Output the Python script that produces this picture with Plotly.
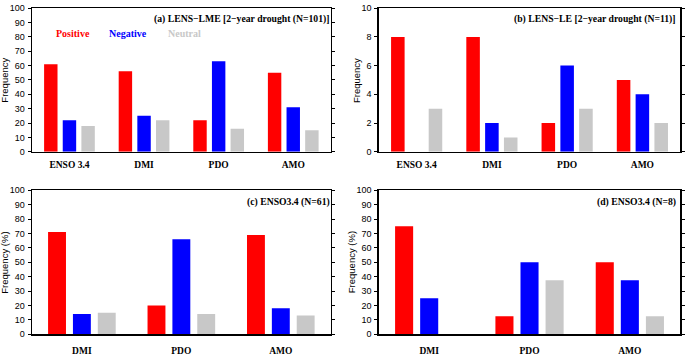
import plotly.graph_objects as go

W, H = 685, 356

# ---- data ----
cats_top = ["ENSO 3.4", "DMI", "PDO", "AMO"]
cats_bot = ["DMI", "PDO", "AMO"]
series_names = ["Positive", "Negative", "Neutral"]

a_pos = [61, 56, 22, 55]
a_neg = [22, 25, 63, 31]
a_neu = [18, 22, 16, 15]

b_pos = [8, 8, 2, 5]
b_neg = [0, 2, 6, 4]
b_neu = [3, 1, 3, 2]

c_pos = [71, 20, 69]
c_neg = [14, 66, 18]
c_neu = [15, 14, 13]

d_pos = [75, 12.5, 50]
d_neg = [25, 50, 37.5]
d_neu = [0, 37.5, 12.5]

colors = ["#FF0000", "#0000FF", "#C8C8C8"]

panels = [
    ("x", "y", cats_top, [a_pos, a_neg, a_neu]),
    ("x2", "y2", cats_top, [b_pos, b_neg, b_neu]),
    ("x3", "y3", cats_bot, [c_pos, c_neg, c_neu]),
    ("x4", "y4", cats_bot, [d_pos, d_neg, d_neu]),
]

fig = go.Figure()
for xa, ya, cats, vals in panels:
    for name, v, col in zip(series_names, vals, colors):
        fig.add_trace(go.Bar(x=cats, y=v, name=name, marker=dict(color=col, line=dict(width=0)),
                             xaxis=xa, yaxis=ya, showlegend=False, hoverinfo="skip"))

def px(x):
    return x / W

def py(y):
    return 1 - y / H

left_dom = [px(32.3), px(332)]
right_dom = [px(380.7), px(683)]
top_dom = [py(152.3), py(3.3)]
bot_dom = [py(341.7), py(192.3)]

serif_b = dict(family="Liberation Serif", size=9.5, color="black", weight="bold")
sans = dict(family="Liberation Sans", size=9, color="black")

def xaxis(dom, anchor, standoff):
    return dict(domain=dom, anchor=anchor, showline=True, linewidth=1.6, linecolor="black",
                mirror=True, ticks="", showgrid=False, tickfont=serif_b, ticklabelstandoff=standoff,
                zeroline=False)

def yaxis(dom, anchor, rng, dt):
    return dict(domain=dom, anchor=anchor, range=rng, dtick=dt, showline=True, linewidth=1.6,
                linecolor="black", mirror="allticks", ticks="outside", ticklen=3, tickwidth=1,
                tickcolor="black", showgrid=False, zeroline=False, tickfont=sans, ticklabelstandoff=1)

fig.update_layout(
    width=W, height=H, margin=dict(l=0, r=0, t=0, b=0),
    paper_bgcolor="white", plot_bgcolor="white",
    barmode="group", bargap=0.25, bargroupgap=0.28,
    xaxis=xaxis(left_dom, "y", 3), yaxis=yaxis(top_dom, "x", [0, 100], 10),
    xaxis2=xaxis(right_dom, "y2", 3), yaxis2=yaxis(top_dom, "x2", [0, 10], 2),
    xaxis3=xaxis(left_dom, "y3", 7), yaxis3=yaxis(bot_dom, "x3", [0, 100], 10),
    xaxis4=xaxis(right_dom, "y4", 7), yaxis4=yaxis(bot_dom, "x4", [0, 100], 10),
)

ann = []
def add_text(text, x, y, font, xanchor="center", angle=0):
    ann.append(dict(text=text, x=px(x), y=py(y), xref="paper", yref="paper", showarrow=False,
                    xanchor=xanchor, yanchor="middle", font=font, textangle=angle))

title_font = dict(family="Liberation Serif", size=9.7, color="black")
add_text("<b>(a) LENS\u2212LME [2\u2212year drought (N=101)]</b>", 333, 15, title_font, "right")
add_text("<b>(b) LENS\u2212LE [2\u2212year drought (N=11)]</b>", 681, 15, title_font, "right")
add_text("<b>(c) ENSO3.4 (N=61)</b>", 333, 204, title_font, "right")
add_text("<b>(d) ENSO3.4 (N=8)</b>", 681, 204, title_font, "right")

leg_x = [54, 107, 167]
for name, col, lx in zip(series_names, colors, leg_x):
    add_text("<b>%s</b>" % name, lx, 29.5, dict(family="Liberation Serif", size=10, color=col), "left")

ytf = dict(family="Liberation Sans", size=9.5, color="black")
add_text("Frequency", 4.5, 78, ytf, angle=-90)
add_text("Frequency", 357.5, 78, ytf, angle=-90)
add_text("Frequency (%)", 4.5, 267, ytf, angle=-90)
add_text("Frequency (%)", 352.5, 267, ytf, angle=-90)

fig.update_layout(annotations=ann)
fig.write_html("out.html", config={"displayModeBar": False, "staticPlot": True},
               post_script="document.body.style.margin='0';document.body.style.overflow='hidden';")
